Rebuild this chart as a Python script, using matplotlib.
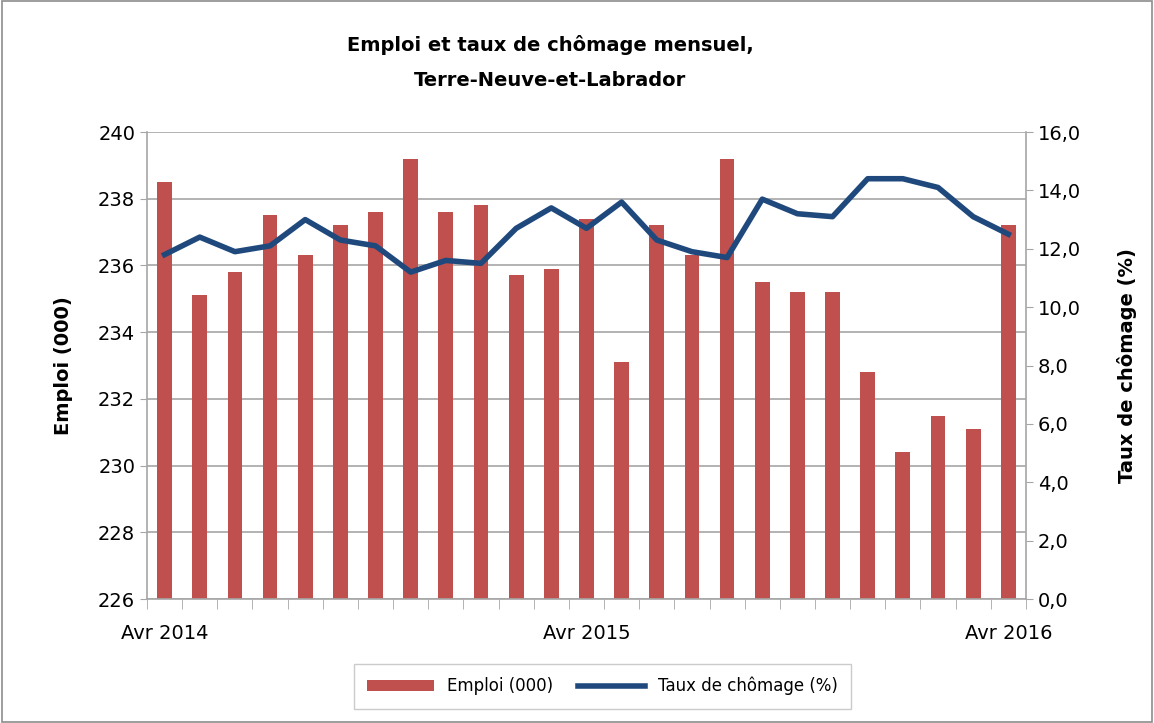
import matplotlib
matplotlib.use("Agg")
import matplotlib.pyplot as plt
import numpy as np
from matplotlib.patches import Rectangle

plt.rcParams["font.family"] = ["Liberation Sans Narrow", "DejaVu Sans Condensed", "DejaVu Sans"]

months = ["Avr 2014", "", "", "", "", "", "", "", "", "", "", "",
          "Avr 2015", "", "", "", "", "", "", "", "", "", "", "",
          "Avr 2016"]
emploi = [238.5, 235.1, 235.8, 237.5, 236.3, 237.2, 237.6, 239.2, 237.6, 237.8, 235.7, 235.9,
          237.4, 233.1, 237.2, 236.3, 239.2, 235.5, 235.2, 235.2, 232.8, 230.4, 231.5, 231.1,
          237.2]
chomage = [11.8, 12.4, 11.9, 12.1, 13.0, 12.3, 12.1, 11.2, 11.6, 11.5, 12.7, 13.4,
           12.7, 13.6, 12.3, 11.9, 11.7, 13.7, 13.2, 13.1, 14.4, 14.4, 14.1, 13.1,
           12.5]

RED = "#c0504d"
BLUE = "#1f497d"
GRID = "#a6a6a6"

fig = plt.figure(figsize=(11.54, 7.23), dpi=100)
fig.patches.append(Rectangle((0.002, 0.002), 0.996, 0.996, transform=fig.transFigure,
                             fill=False, edgecolor="#8c8c8c", lw=1.2))
ax = fig.add_axes([0.1274, 0.1715, 0.7616, 0.6459])
x = np.arange(len(emploi))
bars = ax.bar(x, np.array(emploi) - 226, bottom=226, width=0.42, color=RED, label="Emploi (000)", zorder=2)
ax.set_ylim(226, 240)
ax.set_yticks(np.arange(226, 241, 2))
ax.set_xlim(-0.5, len(emploi) - 0.5)
ax.set_xticks(np.arange(-0.5, len(emploi), 1), minor=True)
ax.set_xticks(x)
ax.set_xticklabels(months)
ax.tick_params(axis="x", which="major", length=0, pad=18, labelsize=14)
ax.tick_params(axis="x", which="minor", length=7, color=GRID, direction="out")
ax.tick_params(axis="y", labelsize=14, length=5, color=GRID)
ax.grid(axis="y", color=GRID, lw=1.2, zorder=0)
ax.set_axisbelow(True)
for s in ["top", "right"]:
    ax.spines[s].set_visible(False)
for s in ["left", "bottom"]:
    ax.spines[s].set_color(GRID)
    ax.spines[s].set_linewidth(1.2)
ax.set_ylabel("Emploi (000)", fontsize=14, fontweight="bold", labelpad=18)

ax2 = ax.twinx()
line, = ax2.plot(x, chomage, color=BLUE, lw=4, label="Taux de chômage (%)", zorder=3)
ax2.set_ylim(0, 16)
ax2.set_yticks(np.arange(0, 16.1, 2))
ax2.set_yticklabels([f"{v:.1f}".replace(".", ",") for v in np.arange(0, 16.1, 2)])
ax2.tick_params(axis="y", labelsize=14, length=5, color=GRID)
for s in ["top", "left", "bottom"]:
    ax2.spines[s].set_visible(False)
ax2.spines["right"].set_color(GRID)
ax2.spines["right"].set_linewidth(1.2)
ax2.set_ylabel("Taux de chômage (%)", fontsize=14, fontweight="bold", labelpad=26)

fig.suptitle("Emploi et taux de chômage mensuel,\nTerre-Neuve-et-Labrador", x=0.477, y=0.952,
             fontsize=14, fontweight="bold", linespacing=2.1)

leg = fig.legend([bars, line], ["Emploi (000)", "Taux de chômage (%)"], loc="center",
                 bbox_to_anchor=(0.522, 0.051), ncol=2, fontsize=12, frameon=True,
                 fancybox=False, edgecolor="#bfbfbf", handlelength=4, columnspacing=1.5,
                 borderpad=0.8)
leg.get_frame().set_linewidth(1.0)

fig.savefig("out.png", dpi=100)
